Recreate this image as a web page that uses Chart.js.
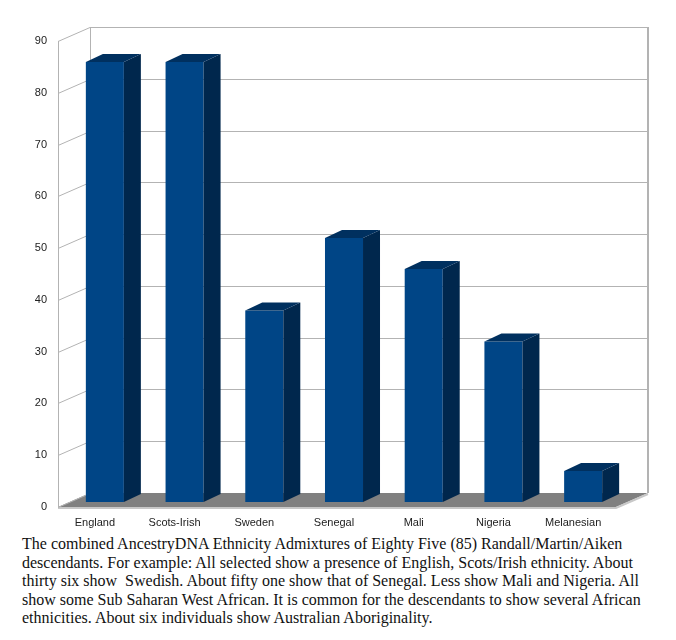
<!DOCTYPE html>
<html>
<head>
<meta charset="utf-8">
<script src="https://cdn.jsdelivr.net/npm/chart.js@4"></script>
<style>
  body { margin: 0; background: #fff; }
  #wrap { width: 676px; height: 535px; position: relative; }
  #caption {
    margin: 0; padding: 0 0 0 22px;
    font-family: "Liberation Serif", serif; font-size: 16px; line-height: 18.5px;
    color: #111; white-space: pre-wrap;
  }
</style>
</head>
<body>
<div id="wrap"><canvas id="chart"></canvas></div>
<p id="caption">The combined AncestryDNA Ethnicity Admixtures of Eighty Five (85) Randall/Martin/Aiken<br>descendants. For example: All selected show a presence of English, Scots/Irish ethnicity. About<br>thirty six show  Swedish. About fifty one show that of Senegal. Less show Mali and Nigeria. All<br>show some Sub Saharan West African. It is common for the descendants to show several African<br>ethnicities. About six individuals show Australian Aboriginality.</p>
<script>
const categories = ['England', 'Scots-Irish', 'Sweden', 'Senegal', 'Mali', 'Nigeria', 'Melanesian'];
const values = [85, 85, 37, 51, 45, 31, 6];
const yMin = 0;
const yMax = 90;
const yStep = 10;

const frontColor = '#004586';
const sideColor = '#00274d';
const topColor = '#00305f';

// 3d offsets (front axis -> back wall, and bar depth)
const wallDx = 32, frontDy = 5, backDy = -9;
const barDx = 17, barDy = -8;

const box3d = {
  id: 'box3d',
  beforeDatasetsDraw(chart) {
    const ctx = chart.ctx;
    const y = chart.scales.y;
    const x = chart.scales.x;
    const fl = x.left - 7;          // front left (axis)
    const bl = fl + wallDx;         // back left
    const br = x.right + 25;        // back right
    const fr = br - wallDx;         // front right of floor
    const yF = v => y.getPixelForValue(v) + frontDy;
    const yB = v => y.getPixelForValue(v) + backDy;
    ctx.save();
    // floor
    ctx.fillStyle = '#808080';
    ctx.beginPath();
    ctx.moveTo(fl, yF(0)); ctx.lineTo(fr, yF(0));
    ctx.lineTo(br, yB(0)); ctx.lineTo(bl, yB(0));
    ctx.closePath(); ctx.fill();
    ctx.strokeStyle = '#c8c8c8'; ctx.lineWidth = 2;
    ctx.beginPath(); ctx.moveTo(fl, yF(0) + 1); ctx.lineTo(fr, yF(0) + 1); ctx.lineTo(br, yB(0) + 1); ctx.stroke();
    // grid on back wall and left wall
    ctx.strokeStyle = '#b3b3b3'; ctx.lineWidth = 1;
    for (let v = yMin; v <= yMax; v += yStep) {
      ctx.beginPath();
      ctx.moveTo(fl, Math.round(yF(v)) + 0.5);
      ctx.lineTo(bl, Math.round(yB(v)) + 0.5);
      if (v > yMin) ctx.lineTo(br, Math.round(yB(v)) + 0.5);
      ctx.stroke();
    }
    ctx.beginPath();
    ctx.moveTo(Math.round(fl) + 0.5, yF(yMax)); ctx.lineTo(Math.round(fl) + 0.5, yF(0));
    ctx.moveTo(Math.round(bl) + 0.5, yB(yMax)); ctx.lineTo(Math.round(bl) + 0.5, yB(0));
    ctx.stroke();
    ctx.lineWidth = 2;
    ctx.beginPath();
    ctx.moveTo(Math.round(br), yB(yMax)); ctx.lineTo(Math.round(br), yB(0));
    ctx.stroke();
    ctx.restore();
  },
  afterDatasetsDraw(chart) {
    const ctx = chart.ctx;
    const meta = chart.getDatasetMeta(0);
    ctx.save();
    meta.data.forEach(bar => {
      const l = bar.x - bar.width / 2, r = bar.x + bar.width / 2;
      const t = bar.y, b = bar.base;
      // side face
      ctx.fillStyle = sideColor;
      ctx.beginPath();
      ctx.moveTo(r, t); ctx.lineTo(r + barDx, t + barDy);
      ctx.lineTo(r + barDx, b + barDy); ctx.lineTo(r, b);
      ctx.closePath(); ctx.fill();
      // top face
      ctx.fillStyle = topColor;
      ctx.beginPath();
      ctx.moveTo(l, t); ctx.lineTo(l + barDx, t + barDy);
      ctx.lineTo(r + barDx, t + barDy); ctx.lineTo(r, t);
      ctx.closePath(); ctx.fill();
    });
    ctx.restore();
  }
};

new Chart(document.getElementById('chart'), {
  type: 'bar',
  data: {
    labels: categories,
    datasets: [{
      data: values,
      backgroundColor: frontColor,
      borderWidth: 0,
      categoryPercentage: 1,
      barPercentage: 0.477
    }]
  },
  options: {
    responsive: true,
    maintainAspectRatio: false,
    animation: false,
    layout: { padding: { top: 36, right: 53, left: 0, bottom: 0 } },
    plugins: { legend: { display: false }, tooltip: { enabled: false } },
    scales: {
      x: {
        grid: { display: false, drawTicks: false },
        border: { display: false },
        ticks: {
          padding: 14, labelOffset: -10,
          color: '#222', font: { family: 'Liberation Sans', size: 11 }
        },
        afterFit: s => { s.height = 33; }
      },
      y: {
        min: yMin, max: yMax,
        grid: { display: false, drawTicks: false },
        border: { display: false },
        ticks: {
          stepSize: yStep, padding: 18, labelOffset: 5,
          color: '#222', font: { family: 'Liberation Sans', size: 11 }
        },
        afterFit: s => { s.width = 65; }
      }
    }
  },
  plugins: [box3d]
});
</script>
</body>
</html>
